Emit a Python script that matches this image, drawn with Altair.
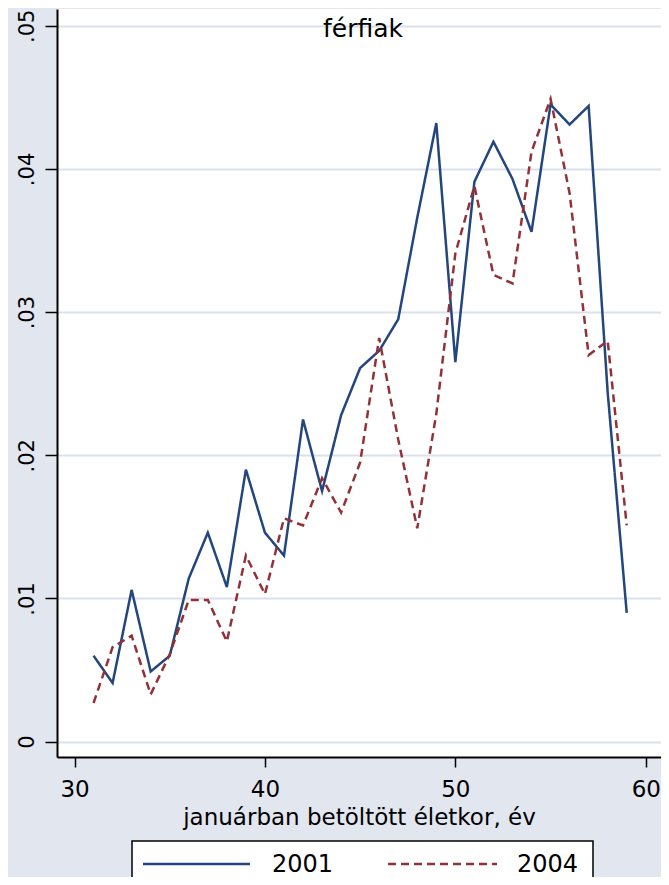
import altair as alt
import pandas as pd

ages = list(range(31, 60))
v2001 = [0.0060, 0.0041, 0.0106, 0.0049, 0.0060, 0.0114, 0.0146, 0.0108, 0.0190, 0.0146,
         0.0130, 0.0225, 0.0175, 0.0228, 0.0261, 0.0273, 0.0295, 0.0366, 0.0432, 0.0265,
         0.0391, 0.0419, 0.0393, 0.0356, 0.0445, 0.0431, 0.0444, 0.0244, 0.0090]
v2004 = [0.0027, 0.0066, 0.0074, 0.0033, 0.0061, 0.0099, 0.0099, 0.0070, 0.0130, 0.0103,
         0.0156, 0.0151, 0.0184, 0.0160, 0.0195, 0.0282, 0.0211, 0.0149, 0.0229, 0.0341,
         0.0388, 0.0326, 0.0320, 0.0412, 0.0449, 0.0383, 0.0270, 0.0280, 0.0151]
years = ["2001", "2004"]
colors = ["#22467D", "#923238"]
dashes = [[1, 0], [8, 5]]
x_ticks = [30, 40, 50, 60]
y_ticks = [0, 0.01, 0.02, 0.03, 0.04, 0.05]

rows = []
for a, v in zip(ages, v2001):
    rows.append({"age": a, "value": v, "year": "2001"})
for a, v in zip(ages, v2004):
    rows.append({"age": a, "value": v, "year": "2004"})
df = pd.DataFrame(rows)

FONT = "DejaVu Sans"
BG = "#E1E6EF"
GRID = "#DAE0EC"

lines = alt.Chart(df).mark_line(strokeWidth=2.5).encode(
    x=alt.X("age:Q",
            scale=alt.Scale(domain=[29.08, 60.8], nice=False, zero=False),
            axis=alt.Axis(values=x_ticks, title="januárban betöltött életkor, év",
                          grid=False, tickSize=10, tickWidth=1.5, tickColor="black",
                          domainColor="black", domainWidth=2,
                          labelFont=FONT, labelFontSize=23, labelColor="black",
                          labelPadding=11, titleFont=FONT, titleFontSize=23,
                          titleFontWeight="normal", titleColor="black", titlePadding=5,
                          labelFlush=False, labelOverlap=False)),
    y=alt.Y("value:Q",
            scale=alt.Scale(domain=[-0.00107, 0.05117], nice=False, zero=False),
            axis=alt.Axis(values=y_ticks, title=None, grid=True, gridColor=GRID,
                          gridWidth=2, tickSize=12, tickWidth=1.5, tickColor="black",
                          domainColor="black", domainWidth=2,
                          labelAngle=270, labelFont=FONT, labelFontSize=21,
                          labelColor="black", labelPadding=8,
                          labelExpr="datum.value == 0 ? '0' : replace(format(datum.value, '.2f'), '0.', '.')",
                          labelFlush=False, labelOverlap=False)),
    color=alt.Color("year:N", scale=alt.Scale(domain=years, range=colors), legend=None),
    strokeDash=alt.StrokeDash("year:N", scale=alt.Scale(domain=years, range=dashes), legend=None),
)

title_df = pd.DataFrame({"t": ["férfiak"]})
title = alt.Chart(title_df).mark_text(font=FONT, fontSize=25, color="black",
                                      align="center", baseline="alphabetic").encode(
    x=alt.value(306), y=alt.value(28), text="t:N")

# legend (drawn below the plot area)
leg_df = pd.DataFrame({"k": [0]})
box = alt.Chart(leg_df).mark_rect(fill="white", stroke="black", strokeWidth=1.5).encode(
    x=alt.value(75), x2=alt.value(536), y=alt.value(832), y2=alt.value(900))
sym1 = alt.Chart(leg_df).mark_rule(color=colors[0], strokeWidth=2.5, strokeDash=dashes[0]).encode(
    x=alt.value(86), x2=alt.value(193), y=alt.value(855))
sym2 = alt.Chart(leg_df).mark_rule(color=colors[1], strokeWidth=2.5, strokeDash=dashes[1]).encode(
    x=alt.value(331), x2=alt.value(440), y=alt.value(855))
lab_df1 = pd.DataFrame({"t": [years[0]]})
lab_df2 = pd.DataFrame({"t": [years[1]]})
lab1 = alt.Chart(lab_df1).mark_text(font=FONT, fontSize=24, color="black", align="left",
                                    baseline="middle").encode(
    x=alt.value(215), y=alt.value(856), text="t:N")
lab2 = alt.Chart(lab_df2).mark_text(font=FONT, fontSize=24, color="black", align="left",
                                    baseline="middle").encode(
    x=alt.value(460), y=alt.value(856), text="t:N")

chart = alt.layer(lines, title, box, sym1, sym2, lab1, lab2).properties(
    width=604, height=748,
    autosize=alt.AutoSizeParams(type="none"),
    padding={"left": 49, "top": 1, "right": 0, "bottom": 120},
    background=BG,
).configure_view(fill="white", stroke=None)

chart.save("out.html", embed_options={"renderer": "svg", "actions": False})
